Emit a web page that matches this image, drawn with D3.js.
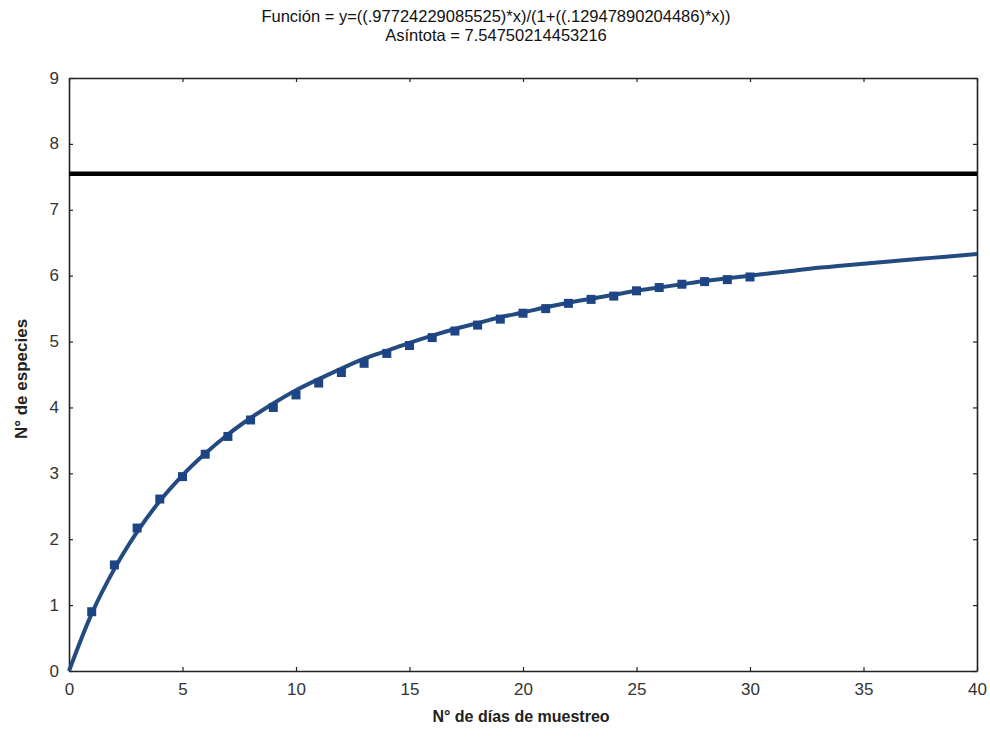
<!DOCTYPE html>
<html>
<head>
<meta charset="utf-8">
<script src="https://cdn.jsdelivr.net/npm/d3@7"></script>
<style>
  html, body { margin: 0; padding: 0; background: #fff; }
  svg { display: block; font-family: "Liberation Sans", Arial, sans-serif; }
</style>
</head>
<body>
<svg id="chart" width="990" height="738"></svg>
<script>
// Title texts
const titleLine1 = "Función = y=((.97724229085525)*x)/(1+((.12947890204486)*x))";
const titleLine2 = "Asíntota = 7.54750214453216";
const xAxisTitle = "N° de días de muestreo";
const yAxisTitle = "N° de especies";

const obsDays = [1,2,3,4,5,6,7,8,9,10,11,12,13,14,15,16,17,18,19,20,21,22,23,24,25,26,27,28,29,30];
const obsValues = [0.90,1.61,2.17,2.61,2.95,3.29,3.56,3.81,4.00,4.19,4.37,4.53,4.67,4.82,4.94,5.06,5.16,5.25,5.34,5.43,5.50,5.58,5.64,5.69,5.77,5.82,5.87,5.91,5.94,5.98];

// Fitted curve
const curveDays = [0,1,2,3,4,5,6,7,8,9,10,11,12,13,14,15,16,17,18,19,20,21,22,23,24,25,26,27,28,29,30,31,32,33,34,35,36,37,38,39,40];
const curveValues = [0,0.87,1.55,2.11,2.58,2.97,3.30,3.59,3.84,4.06,4.26,4.43,4.59,4.74,4.86,4.98,5.09,5.19,5.28,5.37,5.44,5.52,5.59,5.65,5.71,5.77,5.82,5.87,5.92,5.96,6.00,6.04,6.08,6.12,6.15,6.18,6.21,6.24,6.27,6.30,6.33];

// Asymptote
const asymptote = 7.5475;

// Ticks
const xTicks = [0,5,10,15,20,25,30,35,40];
const yTicks = [0,1,2,3,4,5,6,7,8,9];

const svg = d3.select("#chart");
const m = {left: 69, right: 977, top: 78, bottom: 671};

const x = d3.scaleLinear().domain([0, 40]).range([m.left, m.right]);
const y = d3.scaleLinear().domain([0, 9]).range([m.bottom, m.top]);

const axisColor = "#222";
const tickLen = 4;

// Frame axes
const gB = svg.append("g").attr("transform", `translate(0,${m.bottom})`)
  .call(d3.axisBottom(x).tickValues(xTicks).tickSizeInner(-tickLen).tickSizeOuter(0).tickPadding(10));
const gT = svg.append("g").attr("transform", `translate(0,${m.top})`)
  .call(d3.axisTop(x).tickValues(xTicks).tickSizeInner(-tickLen).tickSizeOuter(0).tickFormat(""));
const gL = svg.append("g").attr("transform", `translate(${m.left},0)`)
  .call(d3.axisLeft(y).tickValues(yTicks).tickSizeInner(-tickLen).tickSizeOuter(0).tickPadding(10));
const gR = svg.append("g").attr("transform", `translate(${m.right},0)`)
  .call(d3.axisRight(y).tickValues(yTicks).tickSizeInner(-tickLen).tickSizeOuter(0).tickFormat(""));

[gB, gT, gL, gR].forEach(g => {
  g.select(".domain").attr("stroke", axisColor).attr("stroke-width", 1.6);
  g.selectAll(".tick line").attr("stroke", axisColor).attr("stroke-width", 1.2);
  g.selectAll(".tick text").attr("fill", "#333").style("font-size", "17px")
    .style("font-family", '"Liberation Sans", Arial, sans-serif');
});
gB.selectAll(".tick text").attr("dy", "0.85em");
gL.selectAll(".tick text").attr("dy", "0.3em");

// Asymptote line
svg.append("line")
  .attr("x1", x(0)).attr("x2", x(40))
  .attr("y1", y(asymptote)).attr("y2", y(asymptote))
  .attr("stroke", "#000").attr("stroke-width", 4.5);

// Fitted curve
const curveData = curveDays.map((d, i) => [d, curveValues[i]]);
svg.append("path")
  .datum(curveData)
  .attr("fill", "none")
  .attr("stroke", "#244b80")
  .attr("stroke-width", 4)
  .attr("stroke-linejoin", "round")
  .attr("d", d3.line().x(d => x(d[0])).y(d => y(d[1])).curve(d3.curveMonotoneX));

// Observed markers
const ms = 9;
svg.append("g").selectAll("rect")
  .data(obsDays.map((d, i) => [d, obsValues[i]]))
  .join("rect")
  .attr("x", d => x(d[0]) - ms / 2)
  .attr("y", d => y(d[1]) - ms / 2)
  .attr("width", ms).attr("height", ms)
  .attr("fill", "#1d4484");

// Titles
svg.append("text").attr("x", 496).attr("y", 22).attr("text-anchor", "middle")
  .style("font-size", "16.5px").attr("fill", "#111").text(titleLine1);
svg.append("text").attr("x", 496).attr("y", 41).attr("text-anchor", "middle")
  .style("font-size", "16.5px").attr("fill", "#111").text(titleLine2);

svg.append("text").attr("x", 521).attr("y", 722).attr("text-anchor", "middle")
  .style("font-size", "16px").style("font-weight", "bold").attr("fill", "#222").text(xAxisTitle);

svg.append("text").attr("transform", `translate(27,379) rotate(-90)`).attr("text-anchor", "middle")
  .style("font-size", "17px").style("font-weight", "bold").attr("fill", "#222").text(yAxisTitle);
</script>
</body>
</html>
